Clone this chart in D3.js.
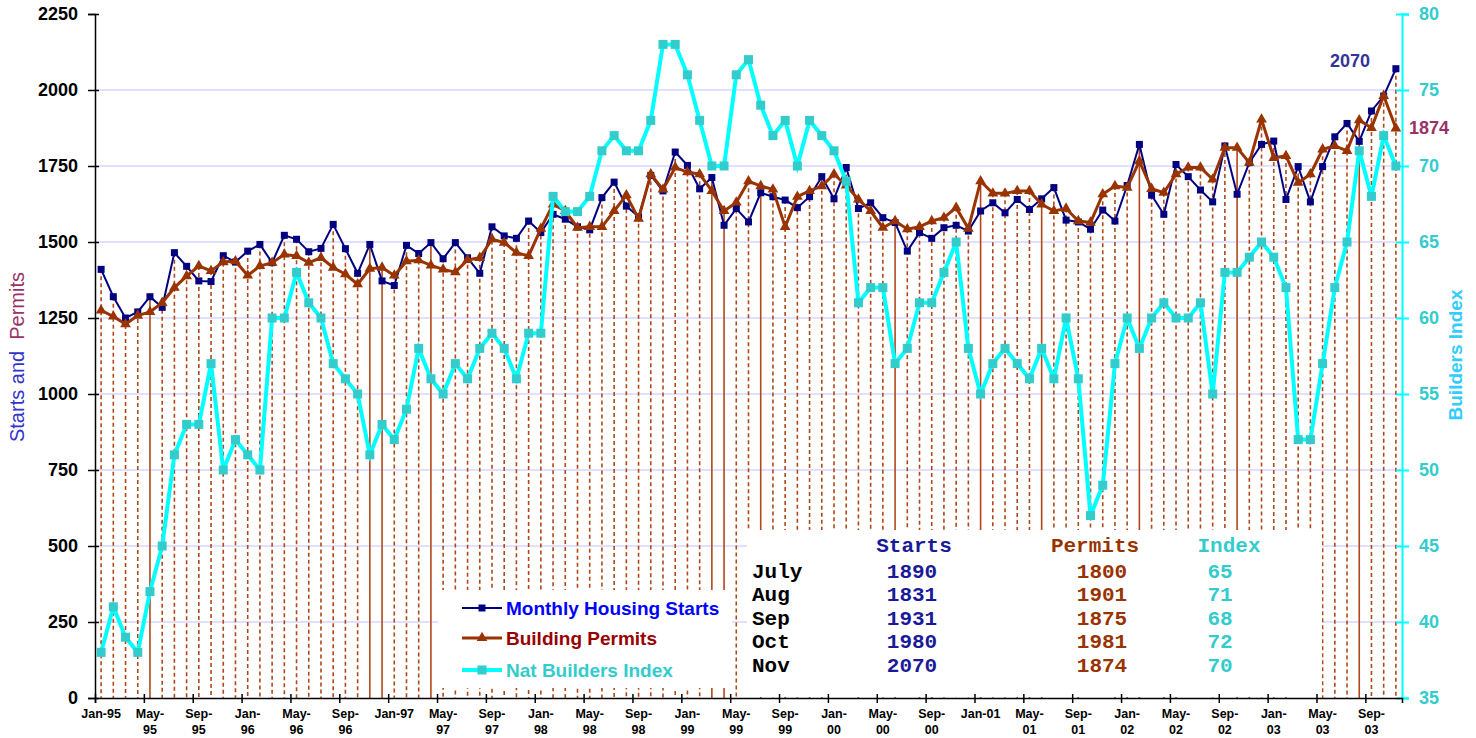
<!DOCTYPE html>
<html>
<head>
<meta charset="utf-8">
<script src="https://cdn.jsdelivr.net/npm/d3@7"></script>
<style>
  html, body { margin: 0; padding: 0; background: #fff; }
  svg { display: block; }
</style>
</head>
<body>
<script>
// ---------------- DATA ----------------
const tickLabels = ["Jan-95","May-|95","Sep-|95","Jan-|96","May-|96","Sep-|96","Jan-97","May-|97","Sep-|97",
  "Jan-|98","May-|98","Sep-|98","Jan-|99","May-|99","Sep-|99","Jan-|00","May-|00","Sep-|00","Jan-01",
  "May-|01","Sep-|01","Jan-|02","May-|02","Sep-|02","Jan-|03","May-|03","Sep-|03"];

const starts = [
  1410,1320,1250,1270,1320,1285,1465,1420,1372,1370,1455,1434,
  1470,1492,1432,1522,1509,1468,1479,1558,1478,1397,1492,1372,
  1357,1489,1462,1498,1445,1498,1448,1397,1550,1520,1512,1569,
  1531,1591,1575,1550,1540,1646,1697,1618,1583,1719,1668,1796,
  1752,1675,1712,1555,1610,1566,1662,1649,1638,1613,1649,1715,
  1642,1745,1610,1629,1580,1564,1470,1531,1512,1547,1555,1536,
  1602,1629,1596,1640,1607,1642,1679,1572,1566,1542,1605,1569,
  1686,1821,1654,1591,1755,1715,1671,1632,1816,1657,1761,1821,
  1832,1640,1748,1632,1748,1846,1890,1831,1931,1980,2070
];

const permits = [
  1275,1255,1230,1258,1270,1300,1350,1388,1421,1405,1434,1437,
  1390,1421,1432,1459,1454,1432,1448,1416,1394,1361,1412,1416,
  1390,1437,1440,1423,1410,1401,1441,1448,1509,1498,1465,1454,
  1544,1624,1602,1547,1550,1550,1602,1654,1577,1723,1673,1745,
  1730,1723,1668,1602,1630,1700,1684,1673,1550,1649,1668,1684,
  1723,1686,1640,1602,1547,1569,1542,1550,1569,1580,1613,1544,
  1700,1660,1660,1668,1668,1624,1602,1610,1569,1564,1657,1684,
  1679,1766,1675,1662,1723,1745,1745,1706,1810,1810,1761,1903,
  1777,1783,1695,1723,1805,1816,1800,1901,1875,1981,1874
];

const builders = [
  38,41,39,38,42,45,51,53,53,57,50,52,
  51,50,60,60,63,61,60,57,56,55,51,53,
  52,54,58,56,55,57,56,58,59,58,56,59,
  59,68,67,67,68,71,72,71,71,73,78,78,
  76,73,70,70,76,77,74,72,73,70,73,72,
  71,69,61,62,62,57,58,61,61,63,65,58,
  55,57,58,57,56,58,56,60,56,47,49,57,
  60,58,60,61,60,60,61,55,63,63,64,65,
  64,62,52,52,57,62,65,71,68,72,70
];

const leftTicks = [0,250,500,750,1000,1250,1500,1750,2000,2250];
const rightTicks = [35,40,45,50,55,60,65,70,75,80];

const tableMonths = ["July","Aug","Sep","Oct","Nov"];
const tableStarts = [1890,1831,1931,1980,2070];
const tablePermits = [1800,1901,1875,1981,1874];
const tableIndex = [65,71,68,72,70];

const seriesNames = ["Monthly Housing Starts","Building Permits","Nat Builders Index"];

// ---------------- STYLE ----------------
const solidDrops = new Set([4,22,23,27,50,51,54,65,72,77,85,93,103]);
const C = {
  starts: "#000080", permits: "#993300", index: "#00FFFF", indexMk: "#33CCCC",
  drop: "#B0481C", grid: "#C4C4FF"
};

const W = 1476, H = 738;
const L = 95, R = 1402, T = 14, B = 698;
const n = starts.length;

const svg = d3.select("body").append("svg").attr("width", W).attr("height", H);

const xb = d3.scaleLinear().domain([0, n]).range([L, R]);
const xc = i => xb(i + 0.5);
const yL = d3.scaleLinear().domain([0, 2250]).range([B, T]);
const yR = d3.scaleLinear().domain([35, 80]).range([B, T]);

// gridlines
svg.append("g").selectAll("line").data(leftTicks.filter(v => v > 0 && v < 2250)).join("line")
  .attr("x1", L).attr("x2", R).attr("y1", d => yL(d)).attr("y2", d => yL(d))
  .attr("stroke", C.grid).attr("stroke-width", 1.2);

// drop lines
svg.append("g").selectAll("line").data(d3.range(n)).join("line")
  .attr("x1", i => xc(i)).attr("x2", i => xc(i))
  .attr("y1", i => yL(Math.max(starts[i], permits[i]))).attr("y2", B)
  .attr("stroke", C.drop).attr("stroke-width", 1.6)
  .attr("stroke-dasharray", i => solidDrops.has(i) ? null : "4,3");

// boxes (legend + data table)
svg.append("rect").attr("x", 438).attr("y", 590).attr("width", 294).attr("height", 98).attr("fill", "#fff");
svg.append("rect").attr("x", 747).attr("y", 530).attr("width", 575).attr("height", 167).attr("fill", "#fff");

// axes
const fontAxis = "'Liberation Sans', Arial, sans-serif";
const gL = svg.append("g").attr("transform", `translate(${L},0)`)
  .call(d3.axisLeft(yL).tickValues(leftTicks).tickFormat(d3.format("d")).tickSize(7).tickPadding(10));
gL.select(".domain").attr("stroke", "#000").attr("stroke-width", 1.5);
gL.selectAll(".tick line").attr("x1", 4).attr("x2", -7).attr("stroke", "#000").attr("stroke-width", 1.5);
gL.selectAll(".tick text").attr("font-family", fontAxis).attr("font-weight", "bold")
  .attr("font-size", 18).attr("fill", "#000");

const gR = svg.append("g").attr("transform", `translate(${R},0)`)
  .call(d3.axisRight(yR).tickValues(rightTicks).tickFormat(d3.format("d")).tickSize(7).tickPadding(10));
gR.select(".domain").attr("stroke", "#00FFFF").attr("stroke-width", 2);
gR.selectAll(".tick line").attr("x1", -6).attr("x2", 7).attr("stroke", "#00FFFF").attr("stroke-width", 2);
gR.selectAll(".tick text").attr("font-family", fontAxis).attr("font-weight", "bold")
  .attr("font-size", 18).attr("fill", "#33CCCC");

const gB = svg.append("g").attr("transform", `translate(0,${B})`)
  .call(d3.axisBottom(xb).tickValues(d3.range(0, n, 4)).tickSize(5).tickFormat(""));
gB.select(".domain").attr("stroke", "#000").attr("stroke-width", 1.5);
gB.selectAll(".tick line").attr("y1", -4).attr("y2", 5).attr("stroke", "#000").attr("stroke-width", 1.5);

// x labels
const xl = svg.append("g").attr("font-family", fontAxis).attr("font-weight", "bold")
  .attr("font-size", 12.5).attr("text-anchor", "middle").attr("fill", "#000");
tickLabels.forEach((lab, k) => {
  const parts = lab.split("|");
  const t = xl.append("text").attr("x", xc(k * 4)).attr("y", 718);
  parts.forEach((p, j) => t.append("tspan").attr("x", xc(k * 4)).attr("dy", j ? 16 : 0).text(p));
});

// series
const lineL = arr => d3.line().x((d, i) => xc(i)).y(d => yL(d))(arr);
const lineR = arr => d3.line().x((d, i) => xc(i)).y(d => yR(d))(arr);

svg.append("path").attr("d", lineL(starts)).attr("fill", "none").attr("stroke", C.starts).attr("stroke-width", 2);
svg.append("g").selectAll("rect").data(starts).join("rect")
  .attr("x", (d, i) => xc(i) - 3.5).attr("y", d => yL(d) - 3.5).attr("width", 7).attr("height", 7).attr("fill", C.starts);

svg.append("path").attr("d", lineL(permits)).attr("fill", "none").attr("stroke", C.permits).attr("stroke-width", 3);
const tri = d3.symbol().type(d3.symbolTriangle).size(50);
svg.append("g").selectAll("path").data(permits).join("path")
  .attr("d", tri).attr("transform", (d, i) => `translate(${xc(i)},${yL(d)})`).attr("fill", C.permits);

svg.append("path").attr("d", lineR(builders)).attr("fill", "none").attr("stroke", C.index).attr("stroke-width", 4);
svg.append("g").selectAll("rect").data(builders).join("rect")
  .attr("x", (d, i) => xc(i) - 4.5).attr("y", d => yR(d) - 4.5).attr("width", 9).attr("height", 9).attr("fill", C.indexMk);

// annotations
svg.append("text").attr("x", 1350).attr("y", 67).attr("text-anchor", "middle")
  .attr("font-family", fontAxis).attr("font-weight", "bold").attr("font-size", 18).attr("fill", "#333399")
  .text(starts[n - 1]);
svg.append("text").attr("x", 1429).attr("y", 134).attr("text-anchor", "middle")
  .attr("font-family", fontAxis).attr("font-weight", "bold").attr("font-size", 18).attr("fill", "#993366")
  .text(permits[n - 1]);

// axis titles
const tl = svg.append("text").attr("transform", "translate(24,357) rotate(-90)").attr("text-anchor", "middle")
  .attr("font-family", fontAxis).attr("font-size", 20).attr("xml:space", "preserve");
tl.append("tspan").attr("fill", "#3333CC").text("Starts and  ");
tl.append("tspan").attr("fill", "#993366").text("Permits");

svg.append("text").attr("transform", "translate(1462,355) rotate(-90)").attr("text-anchor", "middle")
  .attr("font-family", fontAxis).attr("font-weight", "bold").attr("font-size", 19).attr("fill", "#33CCFF")
  .text("Builders Index");

// legend
const lg = svg.append("g");
const legY = [608, 638, 670];
const legTxtCol = ["#0000FF", "#990000", "#33CCCC"];
lg.append("line").attr("x1", 462).attr("x2", 502).attr("y1", legY[0]).attr("y2", legY[0]).attr("stroke", C.starts).attr("stroke-width", 2);
lg.append("rect").attr("x", 478.5).attr("y", legY[0] - 3.5).attr("width", 7).attr("height", 7).attr("fill", C.starts);
lg.append("line").attr("x1", 462).attr("x2", 502).attr("y1", legY[1]).attr("y2", legY[1]).attr("stroke", C.permits).attr("stroke-width", 3);
lg.append("path").attr("d", tri).attr("transform", `translate(482,${legY[1]})`).attr("fill", C.permits);
lg.append("line").attr("x1", 462).attr("x2", 502).attr("y1", legY[2]).attr("y2", legY[2]).attr("stroke", C.index).attr("stroke-width", 4);
lg.append("rect").attr("x", 477.5).attr("y", legY[2] - 4.5).attr("width", 9).attr("height", 9).attr("fill", C.indexMk);
seriesNames.forEach((s, k) => {
  lg.append("text").attr("x", 506).attr("y", legY[k] + 7).attr("font-family", fontAxis).attr("font-weight", "bold")
    .attr("font-size", 19).attr("fill", legTxtCol[k]).text(s);
});

// data table
const mono = "'Liberation Mono', 'Courier New', monospace";
const tb = svg.append("g").attr("font-family", mono).attr("font-weight", "bold").attr("font-size", 21);
tb.append("text").attr("x", 914).attr("y", 552).attr("text-anchor", "middle").attr("fill", "#1A1A99").text("Starts");
tb.append("text").attr("x", 1095).attr("y", 552).attr("text-anchor", "middle").attr("fill", "#993300").text("Permits");
tb.append("text").attr("x", 1229).attr("y", 552).attr("text-anchor", "middle").attr("fill", "#33CCCC").text("Index");
const rowY = [578, 601, 625, 648, 672];
tableMonths.forEach((m, k) => {
  tb.append("text").attr("x", 752).attr("y", rowY[k]).attr("fill", "#000").text(m);
  tb.append("text").attr("x", 912).attr("y", rowY[k]).attr("text-anchor", "middle").attr("fill", "#1A1A99").text(tableStarts[k]);
  tb.append("text").attr("x", 1102).attr("y", rowY[k]).attr("text-anchor", "middle").attr("fill", "#993300").text(tablePermits[k]);
  tb.append("text").attr("x", 1220).attr("y", rowY[k]).attr("text-anchor", "middle").attr("fill", "#33CCCC").text(tableIndex[k]);
});
</script>
</body>
</html>
